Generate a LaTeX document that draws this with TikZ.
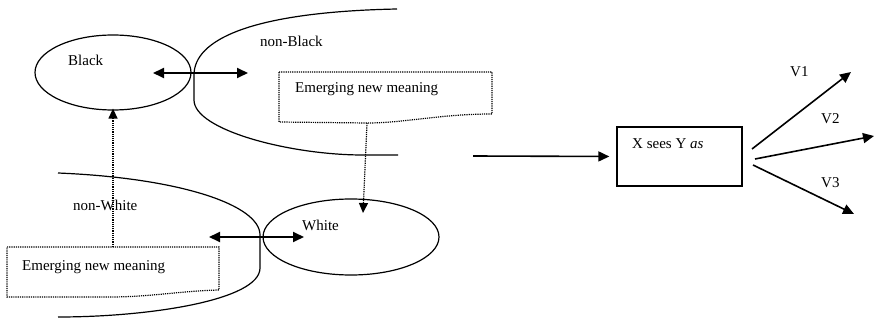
\documentclass[tikz,border=0pt]{standalone}
\usepackage{fontspec}
\setmainfont{Liberation Serif}
\usetikzlibrary{arrows.meta,shapes.geometric}
\tikzset{
  curve/.style={line width=1.2pt},
  oval/.style={ellipse,draw,line width=1.2pt,inner sep=0pt},
  dots/.style={line width=1.2pt,dash pattern=on 1.2pt off 1pt},
  lbl/.style={anchor=base west,inner sep=0pt,font=\fontsize{15}{18}\selectfont},
  dbl/.style={line width=1.8pt,{Triangle[length=11pt,width=10pt]}-{Triangle[length=11pt,width=10pt]}},
  sgl/.style={line width=1.6pt,-{Triangle[length=11pt,width=10pt]}},
  dtip/.style={dots,-{Triangle[length=10pt,width=9pt]}}
}
\begin{document}
\begin{tikzpicture}[x=1pt,y=-1pt]
\useasboundingbox (0,0) rectangle (874,323);
% ellipses
\node[oval,minimum width=156pt,minimum height=75pt] (black) at (113,72.5) {};
\node[oval,minimum width=176pt,minimum height=76pt] (white) at (351,237) {};
% open curves
\draw[curve] (397,9) .. controls (250,12) and (194,40) .. (194,75) -- (194,100)
  .. controls (194,130) and (290,155) .. (363,155) -- (398,155);
\draw[curve] (58,173) .. controls (180,178) and (260,205) .. (260,235) -- (260,268)
  .. controls (260,300) and (150,317) .. (58,317);
% dotted document boxes
\draw[dots] (279,72) -- (492,72) -- (492,114) .. controls (440,114) and (405,123) .. (367,123) -- (279,122) -- cycle;
\draw[dots] (7,247) -- (219,247) -- (219,290) .. controls (180,291) and (150,297) .. (110,297) -- (7,297) -- cycle;
\coordinate (topdoc) at (367,123);
\coordinate (botdoc) at (113,247);
\coordinate (wtip) at (363,213);
% labels
\node[lbl] (lblack) at (68,66) {Black};
\node[lbl] (lnonblack) at (260,46.5) {non-Black};
\node[lbl] (lem1) at (295,93) {Emerging new meaning};
\node[lbl] (lnonwhite) at (73,210) {non-White};
\node[lbl] (lwhite) at (302,230.5) {White};
\node[lbl] (lem2) at (22,270) {Emerging new meaning};
% double arrows
\coordinate (a1) at (153,73); \coordinate (a2) at (248,73);
\coordinate (b1) at (209,237); \coordinate (b2) at (304,237);
\draw[dbl] (a1) -- (a2);
\draw[dbl] (b1) -- (b2);
% dotted arrows
\draw[dtip] (botdoc) -- ([yshift=2pt]black.south);
\draw[dtip] (topdoc) -- (wtip);
% right part
\node[draw,line width=1.3pt,minimum width=125pt,minimum height=59pt,inner sep=0pt] (box) at (679.5,156.5) {};
\node[lbl] (lx) at (632,149) {X sees Y \textit{as}};
\coordinate (m1) at (473,156);
\draw[sgl,shorten >=7pt] (m1) -- (box.west);
\coordinate (s1) at (752,149); \coordinate (e1) at (851,72);
\coordinate (s2) at (755,159); \coordinate (e2) at (874,136);
\coordinate (s3) at (753,165); \coordinate (e3) at (854,214);
\draw[sgl] (s1) -- (e1);
\draw[sgl] (s2) -- (e2);
\draw[sgl] (s3) -- (e3);
\node[lbl] (v1) at (790,76.5) {V1};
\node[lbl] (v2) at (821,124) {V2};
\node[lbl] (v3) at (821,187) {V3};
\end{tikzpicture}
\end{document}
